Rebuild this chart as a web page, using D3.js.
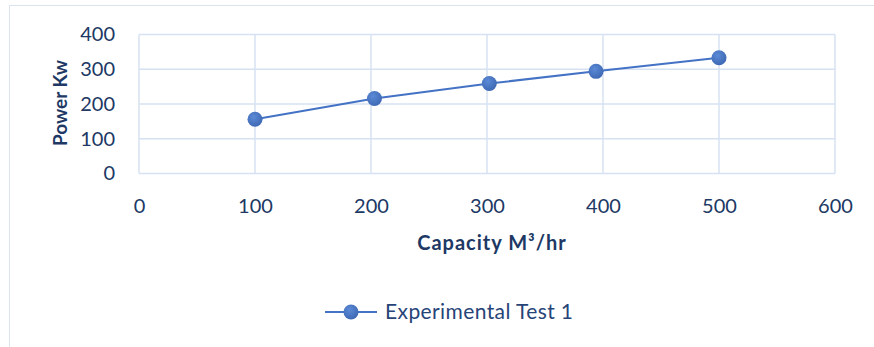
<!DOCTYPE html>
<html>
<head>
<meta charset="utf-8">
<script src="https://cdn.jsdelivr.net/npm/d3@7"></script>
<style>
  html, body { margin: 0; padding: 0; background: #fff; }
  svg { display: block; font-family: Lato, "Open Sans", sans-serif; }
</style>
</head>
<body>
<div id="chart"></div>
<script>
// capacity vs power, single series
const capacity = [100, 203, 302, 394, 500];
const power = [156, 216, 259, 294, 333];
const xTicks = [0, 100, 200, 300, 400, 500, 600];
const yTicks = [0, 100, 200, 300, 400];
const seriesName = 'Experimental Test 1';

const W = 874, H = 347;
const plot = { left: 139, right: 835, top: 34.5, bottom: 173.5 };
const gridColor = '#d6e2f1';
const textColor = '#203864';
const lineColor = '#4472c4';

const svg = d3.select('#chart').append('svg')
  .attr('width', W).attr('height', H);

// outer chart border
svg.append('rect')
  .attr('x', 9.5).attr('y', 5.5)
  .attr('width', W).attr('height', H)
  .attr('fill', 'none').attr('stroke', '#dbe3ee');

const x = d3.scaleLinear().domain([0, 600]).range([plot.left, plot.right]);
const y = d3.scaleLinear().domain([0, 400]).range([plot.bottom, plot.top]);

// gridlines
svg.append('g').selectAll('line').data(yTicks).join('line')
  .attr('x1', plot.left).attr('x2', plot.right)
  .attr('y1', d => y(d)).attr('y2', d => y(d))
  .attr('stroke', gridColor).attr('stroke-width', 1.5);
svg.append('g').selectAll('line').data(xTicks).join('line')
  .attr('y1', plot.top).attr('y2', plot.bottom)
  .attr('x1', d => x(d)).attr('x2', d => x(d))
  .attr('stroke', gridColor).attr('stroke-width', 1.5);

// axes (tick labels only)
const xAxis = svg.append('g')
  .attr('transform', `translate(0,${plot.bottom})`)
  .call(d3.axisBottom(x).tickValues(xTicks).tickSize(0).tickPadding(25));
const yAxis = svg.append('g')
  .attr('transform', `translate(${plot.left},0)`)
  .call(d3.axisLeft(y).tickValues(yTicks).tickSize(0).tickPadding(24));
[xAxis, yAxis].forEach(a => {
  a.select('.domain').remove();
  a.selectAll('text')
    .attr('fill', textColor)
    .style('font-size', '20px')
    .style('font-family', 'Lato, "Open Sans", sans-serif');
});

// axis titles
svg.append('text')
  .attr('x', 492).attr('y', 250)
  .attr('text-anchor', 'middle')
  .attr('fill', textColor)
  .style('font-size', '20px').style('font-weight', 'bold')
  .style('letter-spacing', '1px')
  .text('Capacity M³/hr');
svg.append('text')
  .attr('transform', 'translate(67,103) rotate(-90)')
  .attr('text-anchor', 'middle')
  .attr('fill', textColor)
  .style('font-size', '19px').style('font-weight', 'bold')
  .text('Power Kw');

// series
const pts = capacity.map((c, i) => ({ c, p: power[i] }));
const grad = svg.append('defs').append('radialGradient')
  .attr('id', 'dot').attr('cx', '40%').attr('cy', '35%').attr('r', '65%');
grad.append('stop').attr('offset', '0%').attr('stop-color', '#5b8ad6');
grad.append('stop').attr('offset', '100%').attr('stop-color', '#3f69b4');

svg.append('path')
  .datum(pts)
  .attr('fill', 'none')
  .attr('stroke', lineColor)
  .attr('stroke-width', 2)
  .attr('d', d3.line().x(d => x(d.c)).y(d => y(d.p)));

svg.append('g').selectAll('circle').data(pts).join('circle')
  .attr('cx', d => x(d.c)).attr('cy', d => y(d.p))
  .attr('r', 7.5)
  .attr('fill', 'url(#dot)');

// legend
const lg = svg.append('g').attr('transform', 'translate(325,312)');
lg.append('line').attr('x1', 0).attr('x2', 52)
  .attr('stroke', lineColor).attr('stroke-width', 2);
lg.append('circle').attr('cx', 26).attr('r', 7.5).attr('fill', 'url(#dot)');
lg.append('text')
  .attr('x', 60).attr('dy', '0.35em')
  .attr('fill', '#264478')
  .style('font-size', '21px')
  .style('letter-spacing', '0.4px')
  .text(seriesName);
</script>
</body>
</html>
